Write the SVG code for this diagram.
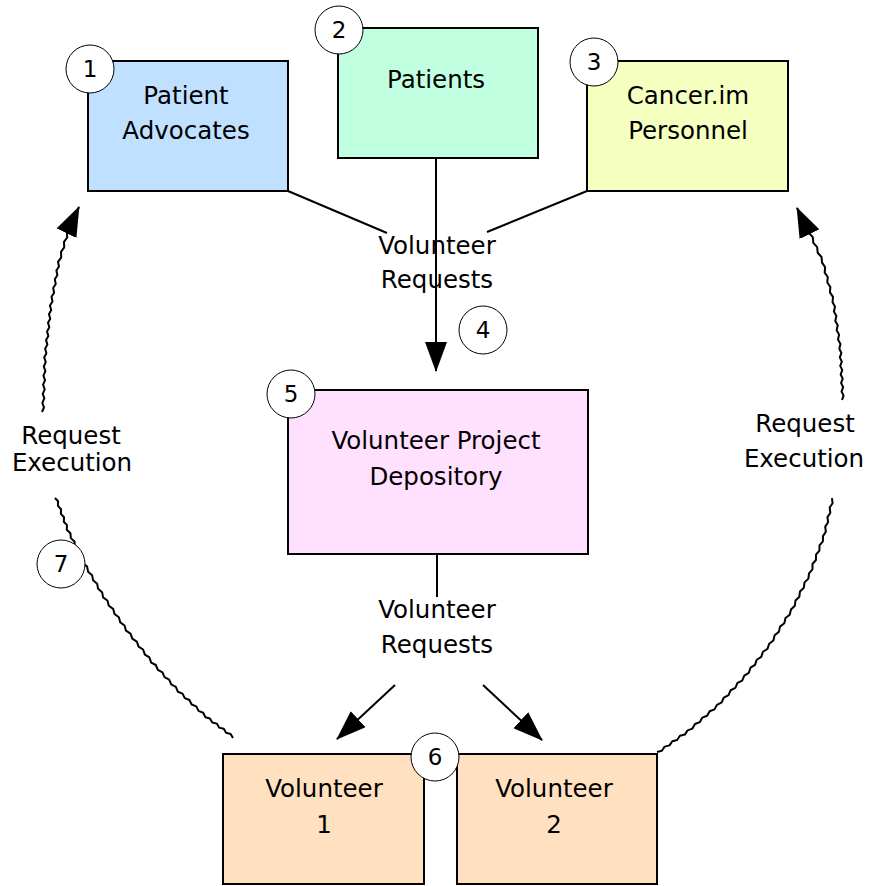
<svg xmlns="http://www.w3.org/2000/svg" width="883" height="886" viewBox="0 0 883 886">
<style>
.box{stroke:#000;stroke-width:2}
.t{font-family:"DejaVu Sans","Liberation Sans",sans-serif;font-size:24.5px;fill:#000;text-anchor:middle}
.n{font-family:"DejaVu Sans","Liberation Sans",sans-serif;font-size:23px;fill:#000;text-anchor:middle}
.badge{fill:#fff;stroke:#000;stroke-width:1}
.ln{fill:none;stroke:#000;stroke-width:2}
.wavy{fill:none;stroke:#000;stroke-width:2;stroke-linejoin:round}
</style>
<defs>
<marker id="ah" viewBox="0 0 30 22" refX="29" refY="11" markerWidth="30" markerHeight="22" markerUnits="userSpaceOnUse" orient="auto">
<path d="M0,0 L30,11 L0,22 z" fill="#000"/>
</marker>
</defs>
<g id="connectors">
<path class="ln" d="M288,191 L387,233"/>
<path class="ln" d="M587,191 L487,232"/>
<path class="ln" d="M436,158 L436,371" marker-end="url(#ah)"/>
<path class="ln" d="M437,555 L437,597"/>
<path class="ln" d="M395,685 L337,739" marker-end="url(#ah)"/>
<path class="ln" d="M483,685 L542,740" marker-end="url(#ah)"/>
<path class="wavy" d="M233,738
l-2.37,-4.03 -4.53,-1.15 -2.37,-4.03 -4.53,-1.15 -2.37,-4.03 -4.53,-1.15 -2.37,-4.03 -4.53,-1.15
l-2.22,-4.51 -4.66,-1.87 -2.22,-4.51 -4.66,-1.87 -2.22,-4.51 -4.66,-1.87 -2.22,-4.51 -4.66,-1.87
l-2.01,-4.86 -4.67,-2.44 -2.01,-4.86 -4.67,-2.44 -2.01,-4.86 -4.67,-2.44 -2.01,-4.86 -4.67,-2.44
l-1.74,-5.10 -4.56,-2.86 -1.74,-5.10 -4.56,-2.86 -1.74,-5.10 -4.56,-2.86 -1.74,-5.10 -4.56,-2.86
l-1.38,-5.19 -4.34,-3.15 -1.38,-5.19 -4.34,-3.15 -1.38,-5.19 -4.34,-3.15 -1.38,-5.19 -4.34,-3.15
l-0.95,-5.17 -4.05,-3.35 -0.95,-5.17 -4.05,-3.35 -0.95,-5.17 -4.05,-3.35 -0.95,-5.17 -4.05,-3.35
l-0.42,-4.98 -3.66,-3.40 -0.42,-4.98 -3.66,-3.40 -0.42,-4.98 -3.66,-3.40 -0.42,-4.98 -3.66,-3.40
l0.215,-4.605 -3.165,-3.345 0.215,-4.605 -3.165,-3.345 0.215,-4.605 -3.165,-3.345 0.215,-4.605 -3.165,-3.345"/>
<path class="wavy" d="M42,412
l1.98,-4.48 -1.62,-4.62 1.98,-4.48 -1.62,-4.62 1.98,-4.48 -1.62,-4.62 1.98,-4.48 -1.62,-4.62 1.98,-4.48 -1.62,-4.62 1.98,-4.48 -1.62,-4.62
l2.27,-4.125 -1.31,-4.525 2.27,-4.125 -1.31,-4.525 2.27,-4.125 -1.31,-4.525 2.27,-4.125 -1.31,-4.525 2.27,-4.125 -1.31,-4.525 2.27,-4.125 -1.31,-4.525
l2.58,-4.04 -0.96,-4.70 2.58,-4.04 -0.96,-4.70 2.58,-4.04 -0.96,-4.70 2.58,-4.04 -0.96,-4.70 2.58,-4.04 -0.96,-4.70
l3.21,-4.45 -0.23,-5.49 3.21,-4.45 -0.23,-5.49 3.21,-4.45 -0.23,-5.49"/>
<path class="ln" d="M67,232 L79,207" marker-end="url(#ah)"/>
<path class="wavy" d="M657,752
l4.865,-1.23 2.785,-4.17 4.865,-1.23 2.785,-4.17 4.865,-1.23 2.785,-4.17 4.865,-1.23 2.785,-4.17
l4.855,-1.84 2.495,-4.56 4.855,-1.84 2.495,-4.56 4.855,-1.84 2.495,-4.56 4.855,-1.84 2.495,-4.56
l4.72,-2.41 2.10,-4.87 4.72,-2.41 2.10,-4.87 4.72,-2.41 2.10,-4.87 4.72,-2.41 2.10,-4.87
l4.53,-2.88 1.69,-5.10 4.53,-2.88 1.69,-5.10 4.53,-2.88 1.69,-5.10 4.53,-2.88 1.69,-5.10
l4.245,-3.31 1.205,-5.25 4.245,-3.31 1.205,-5.25 4.245,-3.31 1.205,-5.25 4.245,-3.31 1.205,-5.25
l3.87,-3.725 0.65,-5.325 3.87,-3.725 0.65,-5.325 3.87,-3.725 0.65,-5.325 3.87,-3.725 0.65,-5.325
l3.43,-4.02 0.05,-5.28 3.43,-4.02 0.05,-5.28 3.43,-4.02 0.05,-5.28 3.43,-4.02 0.05,-5.28
l2.875,-4.35 -0.625,-5.17 2.875,-4.35 -0.625,-5.17 2.875,-4.35 -0.625,-5.17 2.875,-4.35 -0.625,-5.17"/>
<path class="wavy" d="M842,400
l1.58,-4.35 -2.02,-4.17 1.58,-4.35 -2.02,-4.17 1.58,-4.35 -2.02,-4.17 1.58,-4.35 -2.02,-4.17 1.58,-4.35 -2.02,-4.17 1.58,-4.35 -2.02,-4.17
l1.10,-4.925 -2.46,-4.405 1.10,-4.925 -2.46,-4.405 1.10,-4.925 -2.46,-4.405 1.10,-4.925 -2.46,-4.405 1.10,-4.925 -2.46,-4.405
l0.4275,-5.404 -3.0525,-4.484 0.4275,-5.404 -3.0525,-4.484 0.4275,-5.404 -3.0525,-4.484 0.4275,-5.404 -3.0525,-4.484
l-0.538,-5.675 -3.828,-4.225 -0.538,-5.675 -3.828,-4.225 -0.538,-5.675 -3.828,-4.225"/>
<path class="ln" d="M809,233 L797,208" marker-end="url(#ah)"/>
<text class="t" x="437" y="254">Volunteer</text>
<text class="t" x="437" y="288">Requests</text>
<text class="t" x="437" y="618">Volunteer</text>
<text class="t" x="437" y="653">Requests</text>
<text class="t" x="71" y="444">Request</text>
<text class="t" x="72" y="471">Execution</text>
<text class="t" x="805" y="432">Request</text>
<text class="t" x="804" y="467">Execution</text>
</g>
<g id="node1">
<rect class="box" x="88" y="61" width="200" height="130" fill="#C0E0FF"/>
<text class="t" x="186" y="104">Patient</text>
<text class="t" x="186" y="139">Advocates</text>
<circle class="badge" cx="90" cy="69" r="24"/>
<text class="n" x="90" y="77">1</text>
</g>
<g id="node2">
<rect class="box" x="338" y="28" width="200" height="130" fill="#C0FFE0"/>
<text class="t" x="436" y="88">Patients</text>
<circle class="badge" cx="339" cy="30" r="24"/>
<text class="n" x="339" y="38">2</text>
</g>
<g id="node3">
<rect class="box" x="587" y="61" width="201" height="130" fill="#F5FFC0"/>
<text class="t" x="688" y="104">Cancer.im</text>
<text class="t" x="688" y="139">Personnel</text>
<circle class="badge" cx="594" cy="62" r="24"/>
<text class="n" x="594" y="70">3</text>
</g>
<g id="node4">
<circle class="badge" cx="483" cy="330" r="24"/>
<text class="n" x="483" y="338">4</text>
</g>
<g id="node5">
<rect class="box" x="288" y="390" width="300" height="164" fill="#FFE0FF"/>
<text class="t" x="436" y="449">Volunteer Project</text>
<text class="t" x="436" y="485">Depository</text>
<circle class="badge" cx="291" cy="394" r="24"/>
<text class="n" x="291" y="402">5</text>
</g>
<g id="volunteer1">
<rect class="box" x="223" y="754" width="201" height="130" fill="#FFE0C0"/>
<text class="t" x="324" y="797">Volunteer</text>
<text class="t" x="324" y="833">1</text>
</g>
<g id="volunteer2">
<rect class="box" x="457" y="754" width="200" height="130" fill="#FFE0C0"/>
<text class="t" x="554" y="797">Volunteer</text>
<text class="t" x="554" y="833">2</text>
</g>
<g id="node6">
<circle class="badge" cx="435" cy="757" r="24"/>
<text class="n" x="435" y="765">6</text>
</g>
<g id="node7">
<circle class="badge" cx="61" cy="564" r="24"/>
<text class="n" x="61" y="572">7</text>
</g>
</svg>
